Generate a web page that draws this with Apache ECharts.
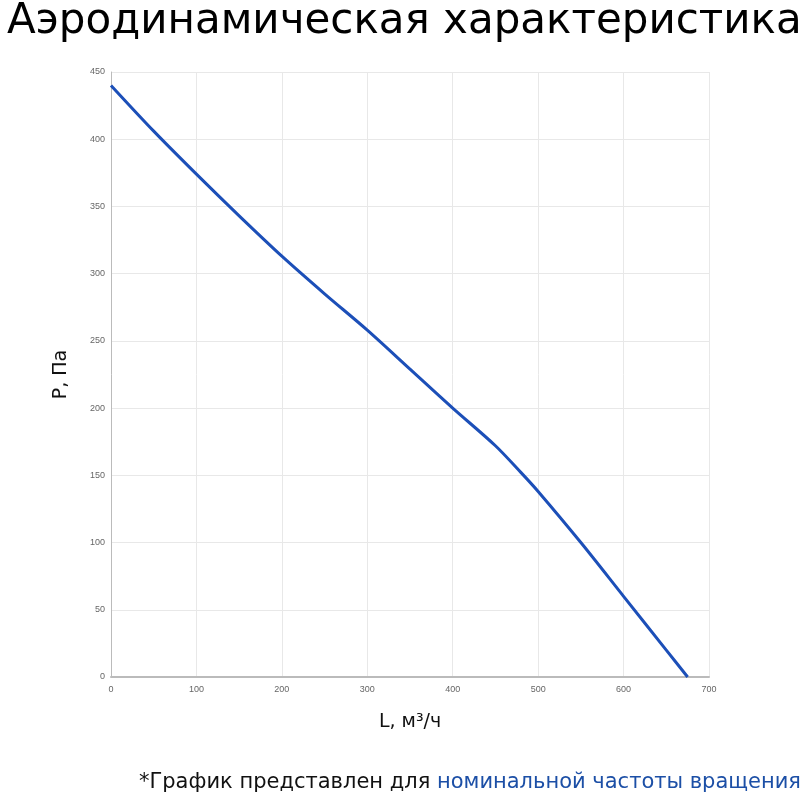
<!DOCTYPE html>
<html><head><meta charset="utf-8">
<script src="https://cdn.jsdelivr.net/npm/echarts@6/dist/echarts.min.js"></script>
<style>html,body{margin:0;padding:0;background:#fff}#c{width:810px;height:800px}</style>
</head><body><div id="c"></div>
<script>
const flow = [0, 50, 100, 150, 200, 250, 300, 350, 400, 450, 480, 500, 550, 600, 650, 675];
const pressure = [440, 406, 374, 343, 313, 285, 258, 229, 200, 172, 152, 138, 100, 60, 20, 0];
const xTicks = [0, 100, 200, 300, 400, 500, 600, 700];
const yTicks = [0, 50, 100, 150, 200, 250, 300, 350, 400, 450];

const chart = echarts.init(document.getElementById('c'));
chart.setOption({
  animation: false,
  backgroundColor: '#fff',
  title: [
    {text: 'Аэродинамическая характеристика', left: 2, top: -4,
     textStyle: {fontFamily: '"DejaVu Sans", sans-serif', fontSize: 42, fontWeight: 'normal', color: '#000'}},
    {text: '{a|*График представлен для }{b|номинальной частоты вращения}', right: 4, top: 767,
     textStyle: {rich: {
       a: {fontFamily: '"DejaVu Sans", sans-serif', fontSize: 21, fontWeight: 'normal', color: '#111'},
       b: {fontFamily: '"DejaVu Sans", sans-serif', fontSize: 21, fontWeight: 'normal', color: '#1c4fa6'}
     }}}
  ],
  grid: {left: 111, right: 101, top: 72, bottom: 123},
  xAxis: {
    type: 'value', min: xTicks[0], max: xTicks[xTicks.length - 1], interval: 100,
    name: 'L, м³/ч', nameLocation: 'middle', nameGap: 36,
    nameTextStyle: {fontFamily: '"DejaVu Sans", sans-serif', fontSize: 19, color: '#111'},
    axisLine: {show: true, lineStyle: {color: '#bbb', width: 2}},
    axisTick: {show: false},
    axisLabel: {fontSize: 9, color: '#666', margin: 8},
    splitLine: {show: true, lineStyle: {color: '#e8e8e8'}}
  },
  yAxis: {
    type: 'value', min: yTicks[0], max: yTicks[yTicks.length - 1], interval: 50,
    name: 'P, Па', nameLocation: 'middle', nameGap: 40,
    nameTextStyle: {fontFamily: '"DejaVu Sans", sans-serif', fontSize: 19, color: '#111'},
    axisLine: {show: true, lineStyle: {color: '#bbb', width: 1}},
    axisTick: {show: false},
    axisLabel: {fontSize: 9, color: '#666', margin: 6},
    splitLine: {show: true, lineStyle: {color: '#e8e8e8'}}
  },
  series: [{
    type: 'line', smooth: 0.3, showSymbol: false,
    data: flow.map((x, i) => [x, pressure[i]]),
    lineStyle: {color: '#1c4fb8', width: 3}
  }]
});
</script></body></html>
